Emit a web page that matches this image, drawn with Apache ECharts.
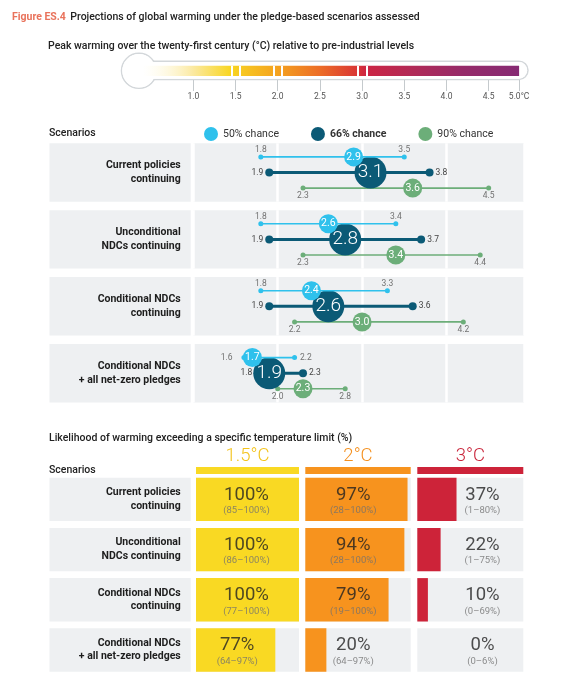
<!DOCTYPE html>
<html>
<head>
<meta charset="utf-8">
<title>Figure ES.4</title>
<script src="https://cdn.jsdelivr.net/npm/echarts@6/dist/echarts.min.js"></script>
<style>
html, body { margin: 0; padding: 0; background: #fff; }
#main { width: 564px; height: 680px; }
</style>
</head>
<body>
<div id="main"></div>
<script>
// 情景
var scenarios = ['Current policies\ncontinuing', 'Unconditional\nNDCs continuing',
	'Conditional NDCs\ncontinuing', 'Conditional NDCs\n+ all net-zero pledges'];

// 峰值升温 (°C): 中值 + 区间
var mid50 = [2.9, 2.6, 2.4, 1.7];
var low50 = [1.8, 1.8, 1.8, 1.6];
var high50 = [3.5, 3.4, 3.3, 2.2];
var mid66 = [3.1, 2.8, 2.6, 1.9];
var low66 = [1.9, 1.9, 1.9, 1.8];
var high66 = [3.8, 3.7, 3.6, 2.3];
var mid90 = [3.6, 3.4, 3.0, 2.3];
var low90 = [2.3, 2.3, 2.2, 2.0];
var high90 = [4.5, 4.4, 4.2, 2.8];

// 温度计刻度
var thermoTicks = [1.0, 1.5, 2.0, 2.5, 3.0, 3.5, 4.0, 4.5];
var thermoLast = 5.0;
var thermoMarks = [1.5, 2.0, 3.0];

// 超过温度上限的概率 (%)
var limits = ['1.5°C', '2°C', '3°C'];
var likely15 = [100, 100, 100, 77];
var range15 = ['85–100', '86–100', '77–100', '64–97'];
var likely2 = [97, 94, 79, 20];
var range2 = ['28–100', '28–100', '19–100', '64–97'];
var likely3 = [37, 22, 10, 0];
var range3 = ['1–80', '1–75', '0–69', '0–6'];

var PANEL = '#eef0f2';
var FONT = 'Roboto, "Noto Sans", sans-serif';
var PX_PER_DEG = 84.4; // 行图横轴每 1°C 的像素

var chances = [
	{ name : '50% chance', mid : mid50, low : low50, high : high50, color : '#2fc1ec', y : 1, dot : 5, big : 19, width : 1.6, font : 10.5, z : 5 },
	{ name : '66% chance', mid : mid66, low : low66, high : high66, color : '#0b5a76', y : 0, dot : 8, big : 32, width : 3, font : 19, z : 4 },
	{ name : '90% chance', mid : mid90, low : low90, high : high90, color : '#6cae79', y : -1, dot : 5, big : 19, width : 1.6, font : 10.5, z : 3 }
];

var columns = [
	{ values : likely15, ranges : range15, fill : '#f9d923', text : '#f3c31c', left : 196, width : 103 },
	{ values : likely2, ranges : range2, fill : '#f7931e', text : '#f4901f', left : 305.3, width : 105.4 },
	{ values : likely3, ranges : range3, fill : '#cd2339', text : '#c9243a', left : 417.3, width : 106 }
];

var grids = [], xAxes = [], yAxes = [], series = [];

function addGrid(grid, xAxis, yAxis) {
	var idx = grids.length;
	grids.push(grid);
	xAxis.gridIndex = idx;
	yAxis.gridIndex = idx;
	xAxes.push(xAxis);
	yAxes.push(yAxis);
	return idx;
}

// ---------- 温度计 ----------
var T_MIN = 0.4, T_END = 4.86; // 图里最后一格被压缩了
var thermoColours = [
	[0.4, 'rgba(255,251,225,0)'], [1.0, '#fbe9a0'], [1.45, '#f8d51f'], [1.55, '#f7ca22'],
	[2.0, '#f4a21f'], [2.5, '#ec6d27'], [2.95, '#d93535'], [3.05, '#cc2544'],
	[3.6, '#b12a57'], [4.2, '#952a69'], [4.86, '#862a73']
];
var stops = thermoColours.map(function(s) {
	return { offset : (s[0] - T_MIN) / (T_END - T_MIN), color : s[1] };
});
var tickVals = thermoTicks.concat([T_END]);
var tg = addGrid({ left : 142.7, right : 44.9, top : 65.7, height : 10.3 }, {
	type : 'value', min : T_MIN, max : T_END, offset : 4,
	axisLine : { show : false }, splitLine : { show : false },
	axisTick : { show : true, length : 11, lineStyle : { color : '#c5cacd' }, customValues : tickVals },
	axisLabel : { show : true, margin : 12, fontSize : 8.5, color : '#555', fontFamily : FONT, customValues : tickVals,
		formatter : function(v) {
			return v >= T_END - 1e-6 ? thermoLast.toFixed(1) + '°C' : v.toFixed(1);
		} }
}, { type : 'category', data : ['t'], show : false });

var gaps = [];
thermoMarks.forEach(function(m) {
	gaps.push({ xAxis : m - 0.05 }, { xAxis : m + 0.05 });
});
series.push({ type : 'bar', xAxisIndex : tg, yAxisIndex : tg, stack : 't', data : [T_MIN], barWidth : 10.3,
	itemStyle : { color : 'rgba(0,0,0,0)' }, silent : true });
series.push({ type : 'bar', xAxisIndex : tg, yAxisIndex : tg, stack : 't', data : [T_END - T_MIN], barWidth : 10.3,
	itemStyle : { color : new echarts.graphic.LinearGradient(0, 0, 1, 0, stops) }, silent : true,
	markLine : { silent : true, symbol : 'none', label : { show : false },
		lineStyle : { color : '#fff', width : 2, type : 'solid' }, data : gaps } });

// ---------- 峰值升温：每个情景一行 ----------
function endLabel(c, i, side, tight) {
	var lab = { show : true, fontSize : 8.5, color : '#727272', fontFamily : FONT,
		formatter : function(p) { return p.value[0].toFixed(1); } };
	var end = side === 'left' ? c.low[i] : c.high[i];
	if (c.y === 0) {
		// 端点被中心大圆盖住时, 标签挪到圆外
		var inside = c.big / 2 - Math.abs(end - c.mid[i]) * PX_PER_DEG - c.dot / 2;
		lab.position = side; lab.distance = Math.max(2, inside + 1); lab.color = '#444';
	} else if (c.y === 1) {
		if (tight) { lab.position = side; lab.distance = side === 'left' ? 9 : 3; }
		else { lab.position = 'top'; lab.distance = 0; }
	} else {
		lab.position = 'bottom'; lab.distance = 1;
	}
	return lab;
}

var ROW_TOP = 143.3, ROW_H = 58.4, ROW_STEP = 66.9;
for (var i = 0; i < scenarios.length; i++) {
	var g = addGrid({ left : 193.3, right : 39.9, top : ROW_TOP + i * ROW_STEP, height : ROW_H,
		show : true, backgroundColor : PANEL, borderWidth : 0 }, {
		type : 'value', min : 1, max : 4.92, interval : 1,
		axisLine : { show : false }, axisTick : { show : false }, axisLabel : { show : false },
		splitLine : { show : true, lineStyle : { color : '#fff', width : 2.5 } }
	}, { type : 'value', min : -1.87, max : 1.87, show : false });

	chances.forEach(function(c) {
		var tight = c.high[i] - c.low[i] < 1;
		series.push({
			name : c.name, type : 'line', xAxisIndex : g, yAxisIndex : g, z : c.z,
			data : [
				{ value : [c.low[i], c.y], label : endLabel(c, i, 'left', tight) },
				{ value : [c.high[i], c.y], label : endLabel(c, i, 'right', tight) }
			],
			symbol : 'circle', symbolSize : c.dot, showSymbol : true,
			itemStyle : { color : c.color }, lineStyle : { color : c.color, width : c.width },
			silent : true
		});
		series.push({
			name : c.name, type : 'scatter', xAxisIndex : g, yAxisIndex : g, z : c.z,
			data : [[c.mid[i], c.y]], symbolSize : c.big,
			itemStyle : { color : c.color, opacity : 1 },
			label : { show : true, position : 'inside', color : '#fff', fontSize : c.font, fontFamily : FONT,
				fontWeight : c.y === 0 ? 300 : 400,
				formatter : function(p) { return p.value[0].toFixed(1); } },
			silent : true
		});
	});
}

// 左侧情景标签底板
function labelPanel(top, step, barH, shift) {
	var g = addGrid({ left : 49.5, width : 141.2, top : top - (step - barH) / 2, height : 4 * step },
		{ type : 'value', min : 0, max : 1, show : false },
		{ type : 'category', inverse : true, data : scenarios, position : 'right', z : 10,
			axisLine : { show : false }, axisTick : { show : false },
			axisLabel : { inside : true, margin : 10, fontSize : 10.5, fontWeight : 'bold', color : '#1d1d1d',
				lineHeight : 13.5, fontFamily : FONT, padding : [shift * 2, 0, 0, 0] } });
	series.push({ type : 'bar', xAxisIndex : g, yAxisIndex : g, data : [1, 1, 1, 1], barWidth : barH,
		itemStyle : { color : PANEL }, silent : true, z : 1 });
}
labelPanel(ROW_TOP, ROW_STEP, ROW_H, 0);

// ---------- 概率表 ----------
var CELL_TOP = 477.7, CELL_H = 43.4, CELL_STEP = 50.2;
labelPanel(CELL_TOP, CELL_STEP, CELL_H, 3);

columns.forEach(function(col, k) {
	var g = addGrid({ left : col.left, width : col.width, top : CELL_TOP - (CELL_STEP - CELL_H) / 2, height : 4 * CELL_STEP }, {
		type : 'value', min : 0, max : 100, position : 'top', offset : 4.1,
		axisLine : { show : true, lineStyle : { color : col.fill, width : 7, cap : 'butt' } },
		axisTick : { show : false }, axisLabel : { show : false }, splitLine : { show : false },
		name : limits[k], nameLocation : 'middle', nameGap : 4,
		nameTextStyle : { color : col.text, fontSize : 18.5, fontWeight : 300, fontFamily : FONT }
	}, { type : 'category', inverse : true, data : scenarios, show : false });

	series.push({ type : 'bar', xAxisIndex : g, yAxisIndex : g, data : col.values, barWidth : CELL_H,
		itemStyle : { color : col.fill }, showBackground : true, backgroundStyle : { color : PANEL }, silent : true });

	// 文字位置
	var anchor = [49, 45.5, 61.5][k];
	series.push({
		type : 'scatter', xAxisIndex : g, yAxisIndex : g, symbolSize : 0, silent : true, z : 6,
		data : col.values.map(function(v, r) {
			return [k === 0 ? Math.min(anchor, v / 2 + 1.5) : anchor, r];
		}),
		label : { show : true, position : 'inside', fontFamily : FONT, padding : [3, 0, 0, 0],
			formatter : function(p) {
				var r = p.dataIndex;
				return '{p|' + col.values[r] + '%}\n{r|(' + col.ranges[r] + '%)}';
			},
			rich : {
				p : { fontSize : 18.5, lineHeight : 20, color : '#222', fontFamily : FONT },
				r : { fontSize : 9.5, lineHeight : 12, color : '#707070', fontFamily : FONT }
			} }
	});
});

function heading(text, left, top, size, weight) {
	return { text : text, left : left, top : top, padding : 0,
		textStyle : { fontSize : size, fontWeight : weight, color : '#222', lineHeight : size + 4, fontFamily : FONT } };
}

var option = {
	animation : false,
	textStyle : { fontFamily : FONT },
	title : [
		{ text : '{a|Figure ES.4} {b|Projections of global warming under the pledge-based scenarios assessed}',
			left : 12, top : 8, padding : 0,
			textStyle : { rich : {
				a : { fontSize : 10.5, fontWeight : 'bold', color : '#e9735c', fontFamily : FONT },
				b : { fontSize : 10.5, fontWeight : 500, color : '#222', fontFamily : FONT } } } },
		heading('Peak warming over the twenty-first century (°C) relative to pre-industrial levels', 48, 39, 10.5, 500),
		heading('Scenarios', 49, 126, 10.5, 500),
		heading('Likelihood of warming exceeding a specific temperature limit (%)', 49, 431, 10.5, 500),
		heading('Scenarios', 49, 463, 10.5, 500)
	],
	legend : {
		left : 199, top : 122, icon : 'circle', itemWidth : 14, itemHeight : 14, itemGap : 32,
		selectedMode : false,
		textStyle : { fontSize : 10.5, color : '#333', fontFamily : FONT },
		data : [
			{ name : '50% chance' },
			{ name : '66% chance', textStyle : { fontWeight : 'bold' } },
			{ name : '90% chance' }
		]
	},
	graphic : [
		// 温度计外框
		{ type : 'circle', z : 0, shape : { cx : 139, cy : 70.8, r : 17.5 }, style : { fill : '#fff', stroke : '#d3d7da', lineWidth : 1.5 } },
		{ type : 'rect', z : 0, shape : { x : 135, y : 61.2, width : 393, height : 18.2, r : 9.1 }, style : { fill : '#fff', stroke : '#d3d7da', lineWidth : 1.5 } },
		{ type : 'circle', z : 1, shape : { cx : 139, cy : 70.8, r : 16.7 }, style : { fill : '#fff' } },
		{ type : 'rect', z : 1, shape : { x : 139, y : 61.95, width : 388.2, height : 16.7, r : 8.3 }, style : { fill : '#fff' } }
	],
	grid : grids,
	xAxis : xAxes,
	yAxis : yAxes,
	series : series
};

var myChart = echarts.init(document.getElementById('main'));
myChart.setOption(option);
</script>
</body>
</html>
